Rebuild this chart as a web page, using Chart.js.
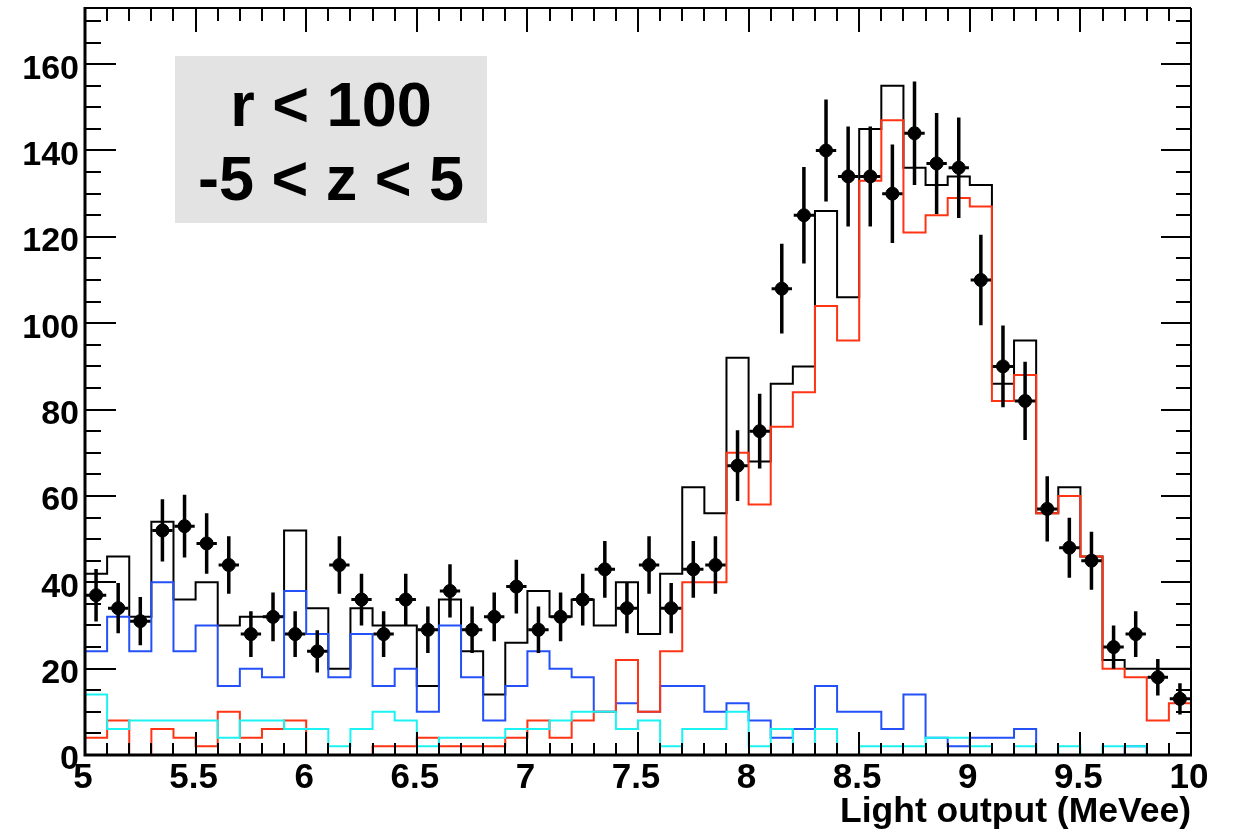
<!DOCTYPE html>
<html>
<head>
<meta charset="utf-8">
<script src="https://cdn.jsdelivr.net/npm/chart.js@4.4.1/dist/chart.umd.min.js"></script>
<style>
  html, body { margin: 0; padding: 0; background: #ffffff; }
  canvas { display: block; }
</style>
</head>
<body>
<canvas id="c" width="1241" height="838"></canvas>
<script>
// Left edges of the 0.1 MeVee bins
const binLowEdges = [5.0,5.1,5.2,5.3,5.4,5.5,5.6,5.7,5.8,5.9,
                     6.0,6.1,6.2,6.3,6.4,6.5,6.6,6.7,6.8,6.9,
                     7.0,7.1,7.2,7.3,7.4,7.5,7.6,7.7,7.8,7.9,
                     8.0,8.1,8.2,8.3,8.4,8.5,8.6,8.7,8.8,8.9,
                     9.0,9.1,9.2,9.3,9.4,9.5,9.6,9.7,9.8,9.9];
const binWidth = 0.1;
const xUpper = 10;

// Measured counts per bin
const measuredCounts = [37,34,31,52,53,49,44,28,32,28,
                        24,44,36,28,36,29,38,29,32,39,
                        29,32,36,43,34,44,34,43,44,67,
                        75,108,125,140,134,134,130,144,137,136,
                        110,90,82,57,48,45,25,28,18,13];

// Simulated total (black)
const totalSim = [42,46,32,54,36,40,30,32,32,52,
                  34,20,34,30,30,16,36,24,14,26,
                  38,32,36,30,40,28,42,62,56,92,
                  68,86,90,126,106,145,155,136,132,134,
                  132,86,96,56,62,46,22,20,20,20];

// Simulated signal component (red)
const signalSim = [4,8,0,6,4,2,10,4,6,8,
                   0,0,0,2,2,4,2,2,2,4,
                   8,4,8,10,22,10,24,40,40,70,
                   58,76,84,104,96,133,147,121,125,129,
                   127,82,88,56,60,46,20,18,8,12];

// Simulated background component (blue)
const bkgBlue = [24,32,24,40,24,30,16,20,18,38,
                 28,18,28,16,20,10,30,18,8,16,
                 24,20,18,10,12,10,16,16,10,12,
                 8,4,6,16,10,10,6,14,4,2,
                 4,4,6,0,0,0,0,2,0,0];

// Simulated background component (cyan)
const bkgCyan = [14,6,8,8,8,8,4,8,8,6,
                 6,2,6,10,8,2,4,4,4,6,
                 6,8,10,10,6,8,2,6,6,10,
                 2,6,0,6,0,2,2,2,4,4,
                 2,0,2,0,2,0,2,2,0,0];

const xTickValues = [5,5.5,6,6.5,7,7.5,8,8.5,9,9.5,10];
const yTickValues = [0,20,40,60,80,100,120,140,160];
const yMax = 173;
const xTitle = 'Light output (MeVee)';
const cutLines = ['r < 100', '-5 < z < 5'];

const FONT = '"Liberation Sans", Arial, Helvetica, sans-serif';

// Step outline: one point per left edge, closed at the upper edge
function stepPoints(values) {
  const pts = binLowEdges.map((e, i) => ({ x: e, y: values[i] }));
  pts.push({ x: xUpper, y: values[values.length - 1] });
  return pts;
}

function histDataset(label, values, color, order) {
  return {
    label, data: stepPoints(values), stepped: 'before',
    borderColor: color, borderWidth: 2, pointRadius: 0, fill: false,
    tension: 0, order
  };
}

const centers = binLowEdges.map(e => e + binWidth / 2);
const pointData = centers.map((c, i) => ({ x: c, y: measuredCounts[i] }));

// Poisson error bars as broken line segments
const vErr = [], hErr = [];
centers.forEach((c, i) => {
  const n = measuredCounts[i], s = Math.sqrt(n);
  vErr.push({ x: c, y: n - s }, { x: c, y: n + s }, { x: c, y: null });
  hErr.push({ x: c - 0.046, y: n }, { x: c + 0.046, y: n }, { x: c, y: null });
});

const framePlugin = {
  id: 'rootFrame',
  beforeDatasetsDraw(chart) {
    const ctx = chart.ctx;
    ctx.save();
    ctx.fillStyle = '#e3e3e3';
    ctx.fillRect(175, 56, 312, 167);
    ctx.fillStyle = '#000';
    ctx.font = 'bold 63px ' + FONT;
    ctx.textAlign = 'center';
    ctx.textBaseline = 'alphabetic';
    ctx.fillText(cutLines[0], 331, 126);
    ctx.fillText(cutLines[1], 331, 200);
    ctx.restore();
  },
  afterDatasetsDraw(chart) {
    const { ctx, chartArea: a, scales: { x, y } } = chart;
    ctx.save();
    ctx.strokeStyle = '#000';
    ctx.lineWidth = 2;
    ctx.beginPath();
    // x ticks every 0.1, long ones every 0.5 (bottom and top, pointing inward)
    for (let k = 0; k <= 50; k++) {
      const px = Math.round(x.getPixelForValue(5 + k * 0.1));
      const major = k % 5 === 0;
      ctx.moveTo(px, a.bottom); ctx.lineTo(px, a.bottom - (major ? 23 : 12));
      ctx.moveTo(px, a.top); ctx.lineTo(px, a.top + (major ? 24 : 13));
    }
    // y ticks every 5, long ones every 20 (left and right, pointing inward)
    for (let k = 0; k * 5 <= yMax; k++) {
      const py = Math.round(y.getPixelForValue(k * 5));
      const major = k % 4 === 0;
      ctx.moveTo(a.left, py); ctx.lineTo(a.left + (major ? 31 : 16), py);
      ctx.moveTo(a.right, py); ctx.lineTo(a.right - (major ? 30 : 15), py);
    }
    ctx.stroke();
    // frame
    ctx.lineWidth = 2;
    ctx.beginPath();
    ctx.moveTo(a.left, a.top); ctx.lineTo(a.right, a.top);
    ctx.moveTo(a.right, a.top); ctx.lineTo(a.right, a.bottom);
    ctx.stroke();
    ctx.lineWidth = 3;
    ctx.beginPath();
    ctx.moveTo(a.left, a.top - 1); ctx.lineTo(a.left, a.bottom + 1.5);
    ctx.moveTo(a.left - 1.5, a.bottom); ctx.lineTo(a.right + 1, a.bottom);
    ctx.stroke();
    ctx.restore();
  }
};

new Chart(document.getElementById('c'), {
  type: 'line',
  data: {
    datasets: [
      { label: 'data', data: pointData, showLine: false, pointRadius: 6.5, pointHoverRadius: 6.5,
        pointBackgroundColor: '#000', pointBorderColor: '#000', pointBorderWidth: 1, order: 0 },
      { label: 'data-yerr', data: vErr, borderColor: '#000', borderWidth: 3.5, pointRadius: 0,
        spanGaps: false, fill: false, order: 1 },
      { label: 'data-xerr', data: hErr, borderColor: '#000', borderWidth: 3, pointRadius: 0,
        spanGaps: false, fill: false, order: 1 },
      histDataset('bkg-cyan', bkgCyan, '#1cf2f2', 2),
      histDataset('signal', signalSim, '#ff3414', 3),
      histDataset('bkg-blue', bkgBlue, '#2450f8', 4),
      histDataset('total', totalSim, '#000000', 5)
    ]
  },
  options: {
    responsive: false,
    animation: false,
    devicePixelRatio: 1,
    events: [],
    layout: { padding: { top: 8, right: 50, bottom: 0, left: 0 } },
    plugins: { legend: { display: false }, tooltip: { enabled: false } },
    scales: {
      x: {
        type: 'linear', min: 5, max: 10,
        afterBuildTicks: s => { s.ticks = xTickValues.map(v => ({ value: v })); },
        afterFit: s => { s.height = 83; s.paddingLeft = 0; s.paddingRight = 0; },
        grid: { display: false, drawTicks: false },
        border: { display: false },
        ticks: {
          autoSkip: false, maxRotation: 0, padding: 2, labelOffset: -2,
          color: '#000', font: { family: FONT, size: 35, weight: 'bold' },
          callback: v => String(v)
        },
        title: {
          display: true, text: xTitle, align: 'end', color: '#000',
          font: { family: FONT, size: 35.5, weight: 'bold' },
          padding: { top: 0, bottom: 4 }
        }
      },
      y: {
        type: 'linear', min: 0, max: yMax,
        afterBuildTicks: s => { s.ticks = yTickValues.map(v => ({ value: v })); },
        afterFit: s => { s.width = 85; s.paddingTop = 0; s.paddingBottom = 0; },
        grid: { display: false, drawTicks: false },
        border: { display: false },
        ticks: {
          autoSkip: false, padding: 6, labelOffset: 5,
          color: '#000', font: { family: FONT, size: 34, weight: 'bold' },
          callback: v => String(v)
        }
      }
    }
  },
  plugins: [framePlugin]
});
</script>
</body>
</html>
